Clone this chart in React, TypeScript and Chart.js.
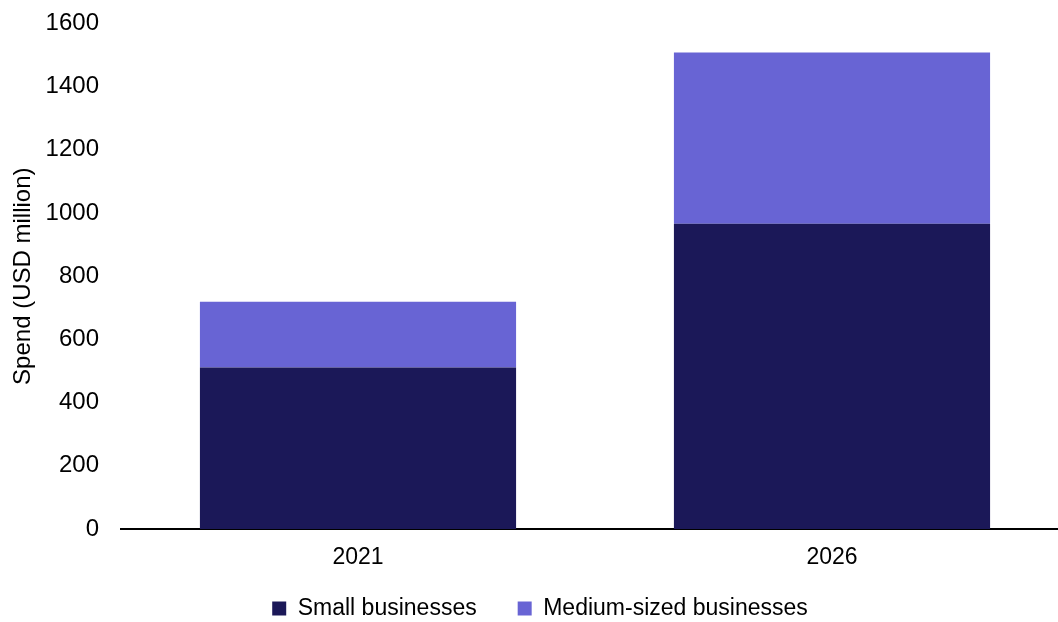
import React, { useEffect, useRef } from "react";
import { Chart, registerables } from "chart.js";

Chart.register(...registerables);

const categories = ["2021", "2026"];
const smallBusinesses = [511, 966];
const mediumBusinesses = [208, 542];
const seriesLabels = ["Small businesses", "Medium-sized businesses"];
const seriesColors = ["#1B1858", "#6864D4"];
const yTicksMax = 1600;
const yTicksStep = 200;
const yTitle = "Spend (USD million)";

const FONT = "'Liberation Sans', Arial, sans-serif";
const CANVAS_LEFT = 11;
const CANVAS_TOP = -13;
const CANVAS_W = 1058;
const CANVAS_H = 643;

export default function App() {
  const ref = useRef<HTMLCanvasElement | null>(null);

  useEffect(() => {
    if (!ref.current) return;
    const chart = new Chart(ref.current, {
      type: "bar",
      data: {
        labels: categories,
        datasets: [
          {
            label: seriesLabels[0],
            data: smallBusinesses,
            backgroundColor: seriesColors[0],
            borderWidth: 0,
            categoryPercentage: 1,
            barPercentage: 0.667,
          },
          {
            label: seriesLabels[1],
            data: mediumBusinesses,
            backgroundColor: seriesColors[1],
            borderWidth: 0,
            categoryPercentage: 1,
            barPercentage: 0.667,
          },
        ],
      },
      options: {
        animation: false,
        responsive: false,
        maintainAspectRatio: false,
        layout: { padding: { top: 8, left: 0, right: 0, bottom: 0 } },
        plugins: {
          tooltip: { enabled: false },
          legend: {
            position: "bottom",
            labels: {
              boxWidth: 14,
              boxHeight: 14,
              padding: 41,
              color: "#000",
              font: { family: FONT, size: 23 },
            },
          },
        },
        scales: {
          x: {
            stacked: true,
            grid: { display: false, drawTicks: false },
            border: { display: true, color: "#000", width: 2 },
            ticks: {
              color: "#000",
              mirror: true,
              padding: -42,
              font: { family: FONT, size: 23 },
            },
            afterFit: (scale: any) => {
              scale.height = 27;
            },
          },
          y: {
            stacked: true,
            min: 0,
            max: yTicksMax,
            grid: { display: false, drawTicks: false },
            border: { display: false },
            ticks: {
              stepSize: yTicksStep,
              color: "#000",
              padding: 22,
              font: { family: FONT, size: 24 },
              callback: (v: any) => String(v),
            },
            title: {
              display: true,
              text: yTitle,
              color: "#000",
              font: { family: FONT, size: 24, lineHeight: 1 },
              padding: { top: 0, bottom: 0 },
            },
            afterFit: (scale: any) => {
              scale.width = 121 - CANVAS_LEFT;
            },
          },
        },
      },
    });
    return () => chart.destroy();
  }, []);

  return (
    <div
      style={{
        position: "fixed",
        left: 0,
        top: 0,
        width: 1058,
        height: 622,
        overflow: "hidden",
        background: "#fff",
      }}
    >
      <canvas
        ref={ref}
        width={CANVAS_W}
        height={CANVAS_H}
        style={{ position: "absolute", left: CANVAS_LEFT, top: CANVAS_TOP, width: CANVAS_W, height: CANVAS_H }}
      />
    </div>
  );
}
